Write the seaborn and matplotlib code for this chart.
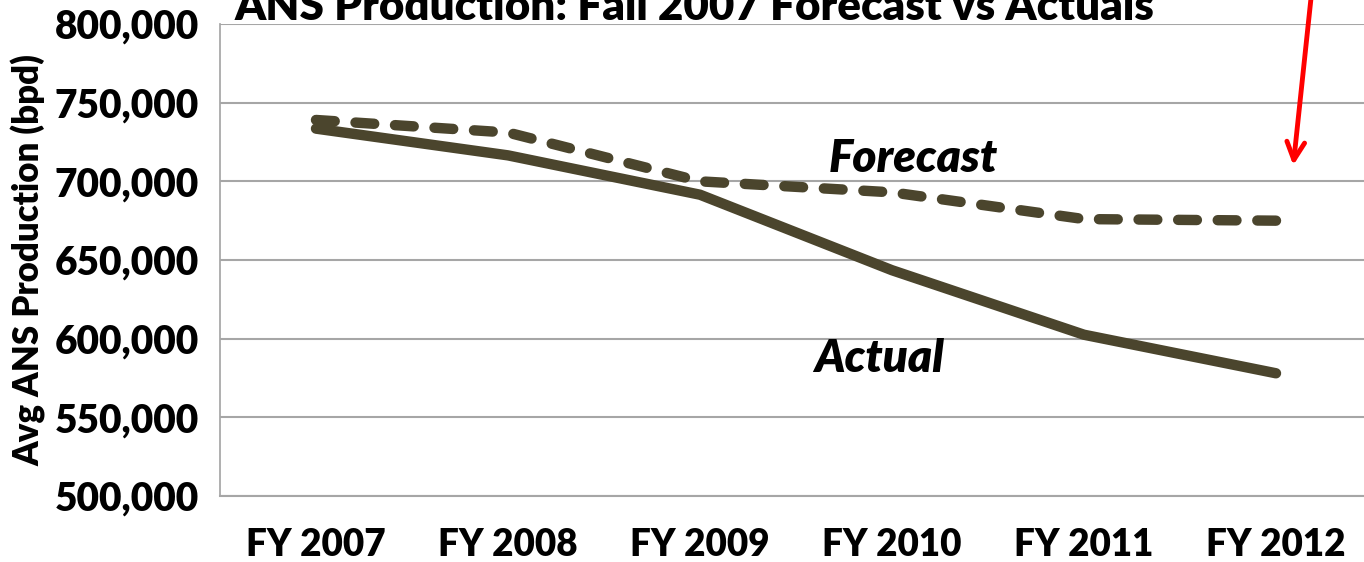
import pandas as pd
import matplotlib
matplotlib.use("Agg")
import matplotlib.pyplot as plt
import seaborn as sns

# Values (barrels per day)
years = ["FY 2007", "FY 2008", "FY 2009", "FY 2010", "FY 2011", "FY 2012"]
forecast = [739000, 731000, 700000, 693000, 676000, 675000]
actual = [733500, 716500, 691500, 643500, 602500, 578000]
y_ticks = [500000, 550000, 600000, 650000, 700000, 750000, 800000]

line_color = "#4b452d"
grid_color = "#a6a6a6"

df = pd.DataFrame({"year": years, "Forecast": forecast, "Actual": actual})
df = df.melt(id_vars="year", var_name="series", value_name="bpd")

sns.set_theme(style="white")
plt.rcParams["font.family"] = ["Lato", "DejaVu Sans"]
plt.rcParams["text.color"] = "black"
plt.rcParams["xtick.color"] = "black"
plt.rcParams["ytick.color"] = "black"

fig = plt.figure(figsize=(13.64, 5.62), dpi=100)
ax = fig.add_axes([220 / 1364, 1 - 496 / 562, 1152 / 1364, 472 / 562])

sns.lineplot(data=df, x="year", y="bpd", hue="series", style="series",
             palette={"Forecast": line_color, "Actual": line_color},
             dashes={"Forecast": (1.8, 2.0), "Actual": ""},
             linewidth=7.5, legend=False, ax=ax,
             solid_capstyle="round", dash_capstyle="round")

ax.set_xlim(-0.5, len(years) - 0.5)
ax.set_ylim(500000, 800000)
ax.set_yticks(y_ticks)
ax.set_yticklabels([f"{v:,}" for v in y_ticks], fontsize=28, fontweight="heavy")
ax.set_xticks(range(len(years)))
ax.set_xticklabels(years, fontsize=26.5, fontweight="heavy")
ax.set_xticks([i - 0.5 for i in range(len(years) + 1)], minor=True)
ax.tick_params(axis="x", which="major", length=0, pad=23, colors="black")
ax.tick_params(axis="x", which="minor", length=12, width=1, color=grid_color)
ax.tick_params(axis="y", length=9, width=1.5, color=grid_color, pad=6,
               labelcolor="black")
ax.yaxis.grid(True, color=grid_color, linewidth=1.5)
ax.set_axisbelow(True)

ax.set_xlabel("")
ax.set_ylabel("Avg ANS Production (bpd)", fontsize=25, fontweight="heavy",
              labelpad=6, color="black")

for side in ["top", "right"]:
    ax.spines[side].set_visible(False)
ax.spines["left"].set_color(grid_color)
ax.spines["bottom"].set_color(grid_color)
ax.spines["bottom"].set_linewidth(1.5)

# Series labels placed on the chart
ax.text(3.11, 714500, "Forecast", fontsize=33, fontweight="heavy",
        style="italic", ha="center", va="center")
ax.text(2.93, 587000, "Actual", fontsize=33, fontweight="heavy",
        style="italic", ha="center", va="center")

# Title, partly cut off at the top edge (as in the source image)
fig.text(695 / 1364, 1 - 7 / 562, "ANS Production: Fall 2007 Forecast vs Actuals",
         fontsize=31.7, fontweight="heavy", ha="center", va="center")

# Red arrow pointing down toward the end of the forecast
ax.annotate("", xy=(1293 / 1364, 1 - 168 / 562), xycoords="figure fraction",
            xytext=(1312 / 1364, 1.02), textcoords="figure fraction",
            arrowprops=dict(arrowstyle="->", color="red", lw=3.5,
                            mutation_scale=32))

fig.savefig("out.png", dpi=100)
